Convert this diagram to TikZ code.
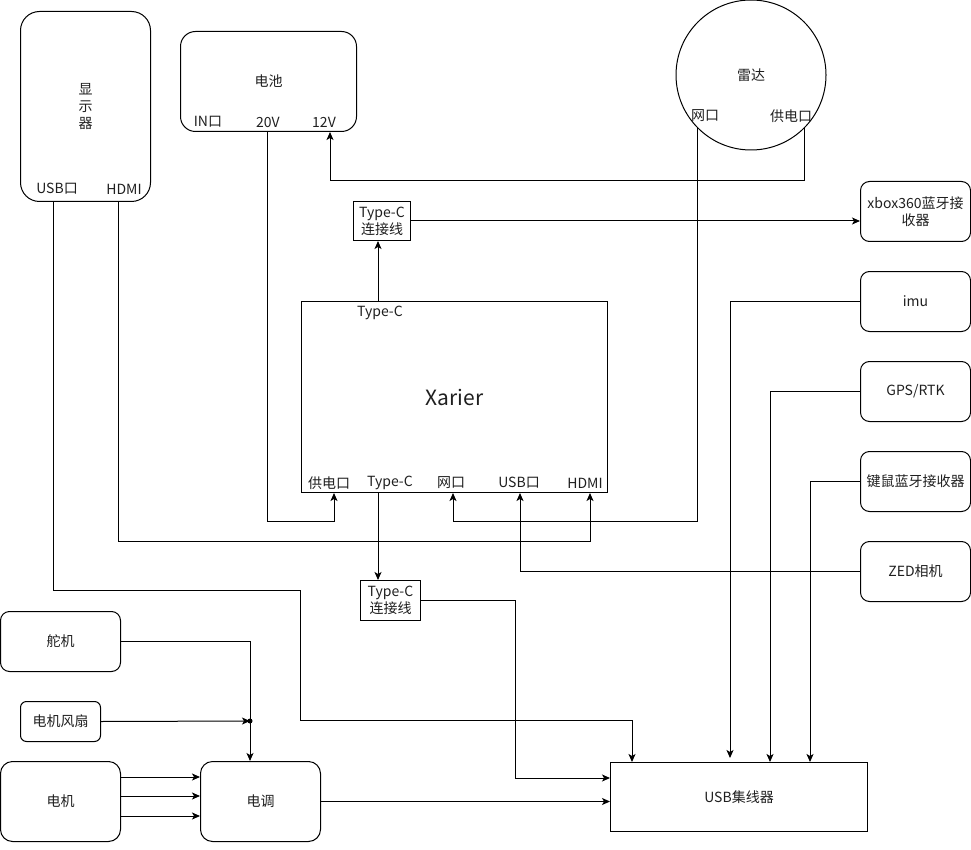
\documentclass[tikz,border=0pt]{standalone}
\usepackage{fontspec}
\setmainfont{Noto Sans CJK SC}
\usetikzlibrary{arrows.meta}
\begin{document}
\begin{tikzpicture}[x=1pt,y=-1pt,
  every node/.style={font=\fontsize{14}{17}\selectfont, inner sep=0pt, text=black!88},
  box/.style={draw, line width=1pt, anchor=north west, align=center},
  rbox/.style={box, rounded corners=#1},
  rbox/.default=9pt,
  lbl/.style={font=\fontsize{14}{17}\selectfont},
  wire/.style={line width=1pt},
  arr/.style={wire, -{Stealth[length=8pt,width=7pt,inset=2pt]}}
]
\useasboundingbox (0,0) rectangle (971,850);

% ---- boxes ----
\node[rbox=19pt, minimum width=130, minimum height=190] (disp) at (20,11) {显\\[0pt]示\\[0pt]器};
\node[rbox=15pt, minimum width=176, minimum height=100] (bat) at (180,31) {电池};
\node[draw, line width=1pt, circle, minimum size=150] (radar) at (751,75) {雷达};
\node[box, minimum width=57, minimum height=39] (tctop) at (353,201) {Type-C\\连接线};
\node[box, minimum width=306, minimum height=191, font=\fontsize{21}{24}\selectfont] (xav) at (301,301) {Xarier};
\node[box, minimum width=60, minimum height=40] (tcbot) at (360,580) {Type-C\\连接线};
\node[box, minimum width=257, minimum height=69] (hub) at (610,762) {USB集线器};

\node[rbox, minimum width=110, minimum height=60] (xbox) at (860,181) {xbox360蓝牙接\\收器};
\node[rbox, minimum width=110, minimum height=60] (imu) at (860,271) {imu};
\node[rbox, minimum width=110, minimum height=60] (gps) at (860,361) {GPS/RTK};
\node[rbox, minimum width=110, minimum height=60] (kbm) at (860,451) {键鼠蓝牙接收器};
\node[rbox, minimum width=110, minimum height=60] (zed) at (860,541) {ZED相机};

\node[rbox, minimum width=120, minimum height=60] (servo) at (0,611) {舵机};
\node[rbox=6pt, minimum width=80, minimum height=40] (fan) at (20,701) {电机风扇};
\node[rbox=12pt, minimum width=120, minimum height=80] (motor) at (0,761) {电机};
\node[rbox=12pt, minimum width=120, minimum height=80] (esc) at (200,761) {电调};

% ---- port labels ----
\node[lbl] (lusb) at (57,189) {USB口};
\node[lbl] (lhdmi) at (124,189) {HDMI};
\node[lbl] (lin) at (208,122) {IN口};
\node[lbl] (l20) at (268,122) {20V};
\node[lbl] (l12) at (324,122) {12V};
\node[lbl] (rnet) at (705,116) {网口};
\node[lbl] (rpwr) at (791,116) {供电口};
\node[lbl] (xtc) at (380,313) {Type-C};
\node[lbl] (xpwr) at (329,483) {供电口};
\node[lbl] (xtcb) at (390,483) {Type-C};
\node[lbl] (xnet) at (451,483) {网口};
\node[lbl] (xusb) at (519,483) {USB口};
\node[lbl] (xhdmi) at (585,483) {HDMI};

% ---- port points ----
\coordinate (pDispUsb) at (disp.south -| 53,0);
\coordinate (pDispHdmi) at (disp.south -| 118,0);
\coordinate (pBat20) at (bat.south -| 267,0);
\coordinate (pBat12) at (bat.south -| 330,0);
\coordinate (pRadNet) at (697,127);
\coordinate (pRadPwr) at (804,128);
\coordinate (pXTop) at (xav.north -| 378,0);
\coordinate (pXPwr) at (xav.south -| 334,0);
\coordinate (pXTcb) at (xav.south -| 378,0);
\coordinate (pXNet) at (xav.south -| 453,0);
\coordinate (pXUsb) at (xav.south -| 520,0);
\coordinate (pXHdmi) at (xav.south -| 590,0);
\coordinate (junc) at (250,721);

% ---- connectors ----
\draw[arr] (pDispUsb) -- (53,590) -- (300,590) -- (300,720) -| (hub.north -| 632,0);
\draw[arr] (pDispHdmi) |- (590,541) -- (pXHdmi);
\draw[arr] (pBat20) |- (334,521) -- (pXPwr);
\draw[arr] (pRadPwr) |- (330,181) -- (pBat12);
\draw[arr] (pRadNet) |- (453,521) -- (pXNet);
\draw[arr] (pXTop) -- (pXTop |- tctop.south);
\draw[arr] (tctop.east) -- (tctop.east -| xbox.west);
\draw[arr] (pXTcb) -- (pXTcb |- tcbot.north);
\draw[arr] (tcbot.east) -| (515,778) -- (hub.west |- 0,778);
\draw[arr] (imu.west) -| (730,758);
\draw[arr] (gps.west) -| (hub.north -| 770,0);
\draw[arr] (kbm.west) -| (hub.north -| 810,0);
\draw[arr] (zed.west) -| (pXUsb);
\draw[arr] (servo.east) -| (esc.north -| junc);
\draw[arr] (fan.east) -- (junc);
\fill (junc) circle (2.5);
\draw[arr] (motor.east |- 0,777) -- (esc.west |- 0,777);
\draw[arr] (motor.east |- 0,796) -- (esc.west |- 0,796);
\draw[arr] (motor.east |- 0,816) -- (esc.west |- 0,816);
\draw[arr] (esc.east) -- (hub.west |- esc.east);
\end{tikzpicture}
\end{document}
